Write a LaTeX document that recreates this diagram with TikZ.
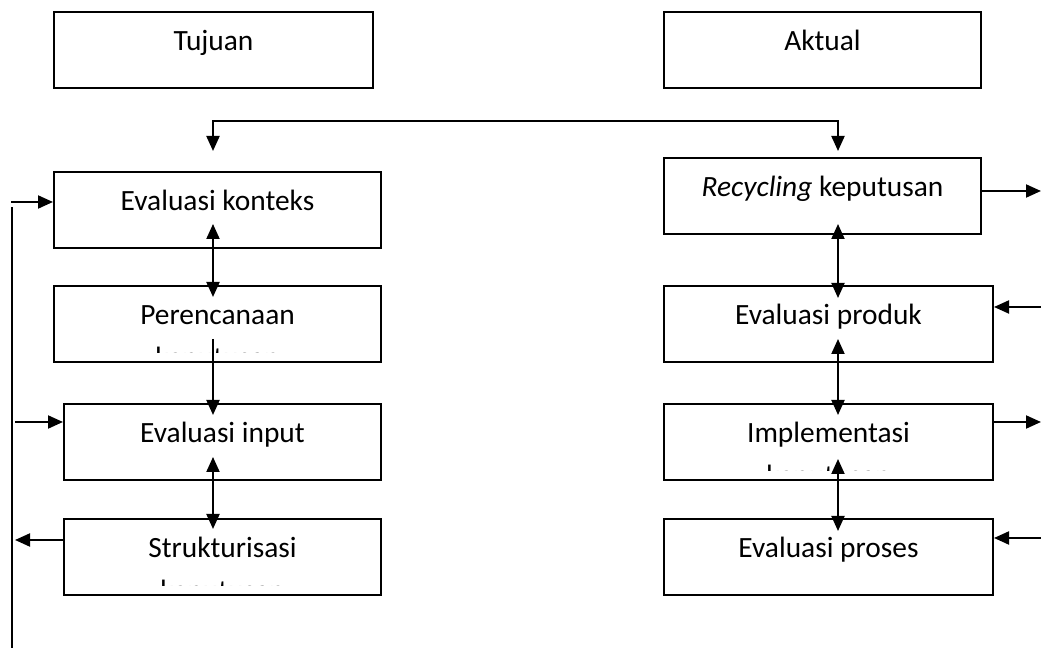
\documentclass[tikz,border=0pt]{standalone}
\usepackage{fontspec}
\setmainfont{Carlito}
\usetikzlibrary{arrows.meta,positioning,calc}

\begin{document}
\begin{tikzpicture}[
  x=0.5pt,y=-0.5pt,
  box/.style={draw,line width=1pt,anchor=north west,inner xsep=0pt,inner ysep=0pt,
    text height=19.5pt,text depth=18.5pt,align=center,
    font=\fontsize{14.7}{17}\selectfont},
  cut/.style={path picture={
    \clip (path picture bounding box.north west) rectangle
      ($(path picture bounding box.south east)+(0,-9)$);
    \node[anchor=base,inner sep=0pt,font=\fontsize{14.7}{17}\selectfont]
      at ($(path picture bounding box.south)+(0,6)$) {#1};}},
  link/.style={line width=1pt,-{Triangle[length=7.5pt,width=6.5pt]}},
  both/.style={line width=1pt,{Triangle[length=7.5pt,width=6.5pt]}-{Triangle[length=7.5pt,width=6.5pt]}},
]
  \useasboundingbox (0,0) rectangle (1041,657);

  % kolom kiri
  \node[box,minimum width=159.5pt] (tujuan) at (53,11) {Tujuan};
  \node[box,minimum width=163.5pt] (konteks) at (53,171) {Evaluasi konteks};
  \node[box,minimum width=163.5pt,cut=keputusan,below=18pt of konteks.south west,anchor=north west] (renc) {Perencanaan};
  \node[box,minimum width=158.5pt,below right=20pt and 5pt of renc.south west] (input) {Evaluasi input};
  \node[box,minimum width=158.5pt,cut=keputusan,below=18.5pt of input.south west,anchor=north west] (struk) {Strukturisasi};

  % kolom kanan
  \node[box,minimum width=158.5pt] (aktual) at (663,11) {Aktual};
  \node[box,minimum width=158.5pt] (recyc) at (663,157) {\textit{Recycling} keputusan};
  \node[box,minimum width=164.5pt,below=25pt of recyc.south west,anchor=north west] (produk) {Evaluasi produk};
  \node[box,minimum width=164.5pt,cut=keputusan,below=20pt of produk.south west,anchor=north west] (impl) {Implementasi};
  \node[box,minimum width=164.5pt,below=18.5pt of impl.south west,anchor=north west] (proses) {Evaluasi proses};

  \coordinate (lx) at (213,0);
  \coordinate (rx) at (838,0);
  \coordinate (top) at (0,121);

  % penghubung atas
  \draw[both] ($(lx |- konteks.north)+(0,-20)$) |- (rx |- top) -- ($(rx |- recyc.north)+(0,-6)$);

  % panah vertikal
  \draw[both] ($(lx |- konteks.south)+(0,-25)$) -- ($(lx |- renc.north)+(0,12)$);
  \draw[link] ($(lx |- renc.south)+(0,-24)$) -- ($(lx |- input.north)+(0,12)$);
  \draw[both] ($(lx |- input.south)+(0,-24)$) -- ($(lx |- struk.north)+(0,11)$);
  \draw[both] ($(rx |- recyc.south)+(0,-11)$) -- ($(rx |- produk.north)+(0,13)$);
  \draw[both] ($(rx |- produk.south)+(0,-24)$) -- ($(rx |- impl.north)+(0,12)$);
  \draw[both] ($(rx |- impl.south)+(0,-22)$) -- ($(rx |- proses.north)+(0,13)$);

  % umpan balik kiri
  \coordinate (fbtop) at (12,207);
  \coordinate (fbbot) at (12,648);
  \draw[line width=1pt] (fbtop) -- (fbbot);
  \coordinate (inK) at (11,202);
  \coordinate (inI) at (15,422);
  \coordinate (outS) at (15,540);
  \draw[link] (inK) -- (inK -| konteks.west);
  \draw[link] (inI) -- (inI -| input.west);
  \draw[link] (outS -| struk.west) -- (outS);

  % umpan balik kanan
  \coordinate (outR) at (1041,191);
  \coordinate (inP) at (1041,307);
  \coordinate (outM) at (1041,422);
  \coordinate (inQ) at (1041,538);
  \draw[link] (outR -| recyc.east) -- (outR);
  \draw[link] (inP) -- (inP -| produk.east);
  \draw[link] (outM -| impl.east) -- (outM);
  \draw[link] (inQ) -- (inQ -| proses.east);
\end{tikzpicture}
\end{document}
